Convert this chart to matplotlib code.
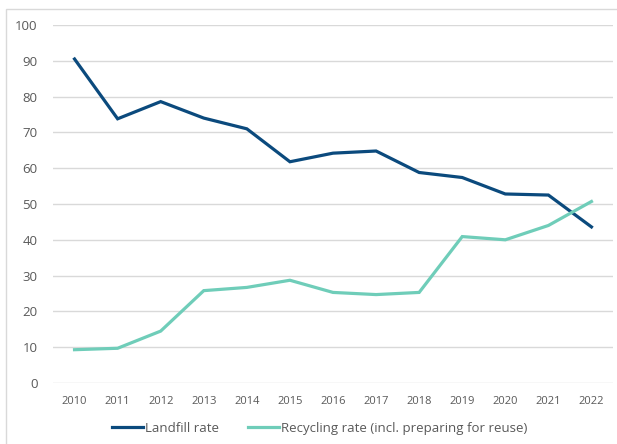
import matplotlib.pyplot as plt
from matplotlib.patches import Rectangle

years = [2010, 2011, 2012, 2013, 2014, 2015, 2016, 2017, 2018, 2019, 2020, 2021, 2022]
landfill = [90.5, 73.8, 78.6, 74.0, 71.0, 61.8, 64.2, 64.8, 58.8, 57.4, 52.8, 52.5, 43.6]
recycling = [9.3, 9.7, 14.5, 25.8, 26.7, 28.7, 25.3, 24.7, 25.3, 40.9, 40.0, 44.0, 50.7]
labels = ["Landfill rate", "Recycling rate (incl. preparing for reuse)"]

plt.rcParams['font.family'] = ['Open Sans', 'DejaVu Sans']
grey = "#595959"

fig = plt.figure(figsize=(6.17, 4.44), dpi=100)
fig.patches.append(Rectangle((6 / 617, -0.1), 1.1, 1 - 9 / 444 + 0.1, transform=fig.transFigure,
                             fill=False, edgecolor="#d9d9d9", linewidth=1.0))

ax = fig.add_axes([53 / 617, 1 - 383 / 444, 560 / 617, 358 / 444])
ax.plot(years, landfill, color="#0b4a7d", linewidth=2.3, label=labels[0], solid_joinstyle="miter")
ax.plot(years, recycling, color="#6fcdb9", linewidth=2.3, label=labels[1], solid_joinstyle="miter")

ax.set_xlim(2009.5, 2022.5)
ax.set_ylim(0, 100)
ax.set_xticks(years)
ax.set_xticklabels([str(y) for y in years], fontsize=8, color=grey)
ax.set_yticks(range(0, 101, 10))
ax.tick_params(axis="y", labelsize=9.5, labelcolor=grey, length=0, pad=11)
ax.tick_params(axis="x", length=0, pad=9)
ax.grid(axis="y", color="#d9d9d9", linewidth=1.0)
ax.set_axisbelow(True)
for s in ax.spines.values():
    s.set_visible(False)

fig.legend(loc="center", bbox_to_anchor=(320 / 617, 1 - 428 / 444), ncol=2, frameon=False,
           fontsize=9.5, handlelength=2.3, handletextpad=0.2, columnspacing=2.2, labelcolor=grey)

fig.savefig("out.png", dpi=100)
